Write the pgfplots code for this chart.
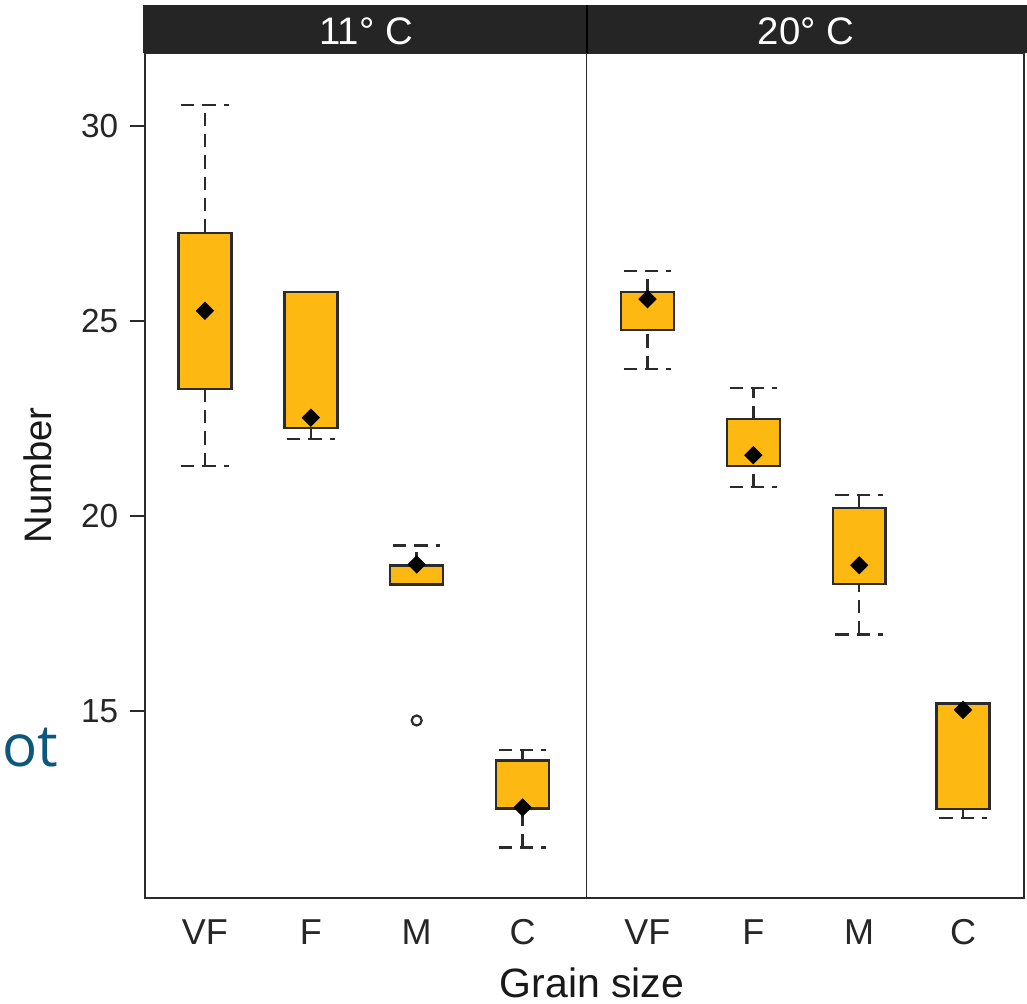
\documentclass[border=0pt]{standalone}
\usepackage{fontspec}
\setmainfont{Liberation Sans}
\newfontfamily\slidefont{Open Sans}
\usepackage{pgfplots}
\pgfplotsset{compat=1.18}

\definecolor{boxorange}{RGB}{254,184,18}
\definecolor{framegray}{HTML}{2B2B2B}
\definecolor{stripgray}{HTML}{252525}
\definecolor{slideteal}{HTML}{0D587A}

\pgfplotsset{
  whisk/.style={draw=framegray, line width=0.75pt, dash pattern=on 4pt off 2.4pt},
  boxst/.style={draw=framegray, fill=boxorange, line width=0.75pt, solid},
}

% x, box left, box right, cap left, cap right, lower whisker, lower quartile, upper quartile, upper whisker
\newcommand{\gbox}[9]{%
  \addplot[whisk] coordinates {(#1,#6) (#1,#7)};
  \addplot[whisk] coordinates {(#4,#6) (#5,#6)};
  \addplot[whisk] coordinates {(#1,#8) (#1,#9)};
  \addplot[whisk] coordinates {(#4,#9) (#5,#9)};
  \addplot[boxst] coordinates {(#2,#7) (#3,#7) (#3,#8) (#2,#8)} -- cycle;
}

\begin{document}
\begin{tikzpicture}
\useasboundingbox (0,0) rectangle (308.1pt,301.2pt);

\begin{axis}[
  at={(43.5pt,31.8pt)}, anchor=south west,
  scale only axis, width=263.7pt, height=253.5pt,
  xmin=-0.566, xmax=7.736, ymin=10.21, ymax=31.87,
  axis line style={draw=framegray, line width=0.75pt},
  xtick={0,1,2,3,4.18,5.18,6.18,7.16},
  xticklabels={VF,F,M,C,VF,F,M,C},
  ytick={15,20,25,30},
  ytick pos=left,
  tick align=outside,
  major tick length=4.5pt,
  tick style={draw=framegray, line width=0.7pt},
  xtick style={draw=none},
  /pgf/number format/assume math mode=true,
  yticklabel style={font=\fontsize{10}{12}\selectfont, text=black!85},
  xticklabel style={font=\fontsize{10.8}{13}\selectfont, text=black!85, yshift=1.5pt},
  xlabel={Grain size},
  ylabel={Number},
  xlabel style={at={(axis description cs:0.5085,-0.1172)}, anchor=base,
    font=\fontsize{12.3}{14}\selectfont, text=black!90},
  ylabel style={at={(axis description cs:-0.1223,0.5)}, anchor=center,
    font=\fontsize{11.5}{14}\selectfont, text=black!90},
]
% 11 C
\gbox{0}{-0.25}{0.25}{-0.225}{0.225}{21.28}{23.26}{27.26}{30.54}
\gbox{1}{0.75}{1.25}{0.775}{1.225}{21.97}{22.26}{25.74}{25.74}
\gbox{2}{1.75}{2.25}{1.775}{2.225}{18.25}{18.25}{18.73}{19.24}
\gbox{3}{2.75}{3.25}{2.775}{3.225}{11.50}{12.50}{13.73}{14.00}
% 20 C
\gbox{4.18}{3.93}{4.43}{3.955}{4.405}{23.77}{24.77}{25.74}{26.28}
\gbox{5.18}{4.93}{5.43}{4.955}{5.405}{20.74}{21.28}{22.49}{23.28}
\gbox{6.18}{5.93}{6.43}{5.955}{6.405}{16.97}{18.26}{20.20}{20.54}
\gbox{7.16}{6.91}{7.41}{6.935}{7.385}{12.26}{12.49}{15.20}{15.20}

% medians
\addplot[only marks, mark=square*, mark size=1.75pt,
  mark options={rotate=45, fill=black, draw=black, solid}]
  coordinates {(0,25.26) (1,22.52) (2,18.76) (3,12.53)
               (4.18,25.56) (5.18,21.56) (6.18,18.74) (7.16,15.03)};
% outlier
\addplot[only marks, mark=o, mark size=1.5pt,
  mark options={draw=framegray, line width=0.65pt, solid}]
  coordinates {(2,14.76)};

\draw[framegray, line width=0.5pt] (axis cs:3.604,10.21) -- (axis cs:3.604,31.87);
\end{axis}

% panel strips
\fill[stripgray] (42.9pt,285.3pt) rectangle (308.1pt,299.7pt);
\draw[black, line width=0.5pt] (176.1pt,285.3pt) -- (176.1pt,299.7pt);
\node[anchor=base, text=white, font=\fontsize{11.5}{14}\selectfont, inner sep=0]
  at (109.8pt,287.7pt) {11° C};
\node[anchor=base, text=white, font=\fontsize{11.5}{14}\selectfont, inner sep=0]
  at (241.8pt,287.7pt) {20° C};

\node[anchor=base west, text=slideteal, font=\slidefont\fontsize{17.5}{21}\selectfont, inner sep=0]
  at (0.4pt,71.1pt) {ot};
\end{tikzpicture}
\end{document}
